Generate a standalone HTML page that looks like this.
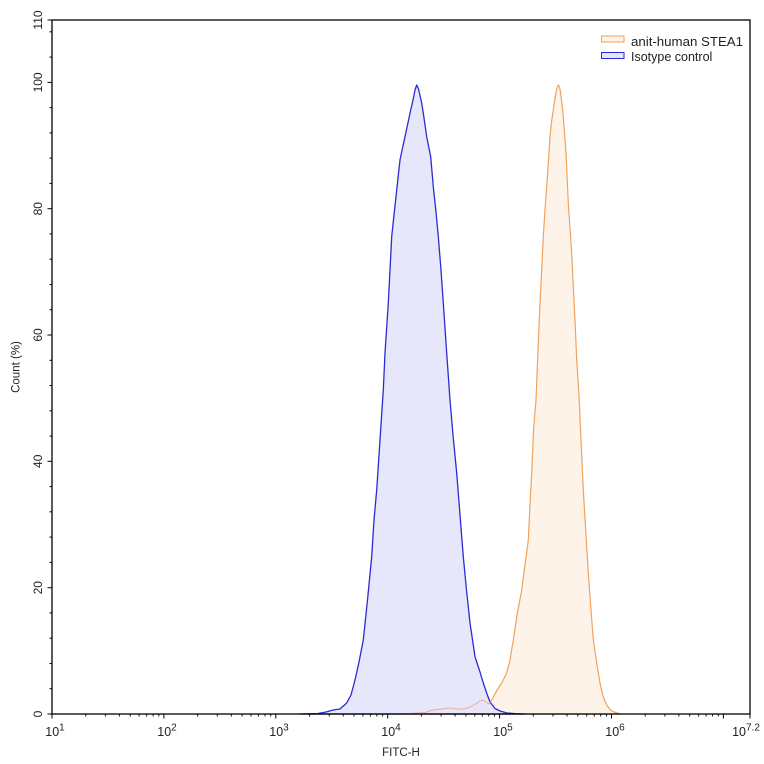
<!DOCTYPE html>
<html>
<head>
<meta charset="utf-8">
<style>
  html,body{margin:0;padding:0;background:#fff;}
  svg{display:block;}
  text{font-family:"Liberation Sans",Arial,sans-serif;fill:#222;}
</style>
</head>
<body>
<svg width="764" height="764" viewBox="0 0 764 764" xmlns="http://www.w3.org/2000/svg">
  <rect x="0" y="0" width="764" height="764" fill="#fff"/>

  <!-- Orange (anti-human STEA1) -->
  <path d="M395,714 L410,713.5 L425,712.5 L433,710 L442,709 L450,708 L458,709 L463,709.3 L470,707 L476.7,703.3 L480,701 L483,700 L486.7,702.7 L489,704 L491.7,700 L495,694 L497,690 L501.7,683 L506.7,673 L510,660 L513.3,640 L517,615 L521.7,590 L525,565 L528.3,540 L530,505 L531.7,473 L533.5,430 L536,400 L538,350 L540,303 L541.7,270 L543.3,236.7 L545,210 L546.7,186.7 L548.5,160 L550,136.7 L551.5,122 L553.3,110 L555.5,95 L557,88 L558.3,85 L559.5,87 L560.5,92 L562.7,110 L564.5,132 L566,153 L567,175 L568.3,203 L570,228 L571.7,253 L573.3,287 L575,320 L576.7,360 L579,395 L581,440 L583.3,490 L586,535 L588.3,573 L591,610 L593.3,640 L597,665 L600,683 L603,696 L606.7,705 L610,709.5 L613.3,711.7 L620,714 Z"
        fill="#fdf3e8" stroke="#f0a25e" stroke-width="1.2" stroke-linejoin="round"/>

  <!-- Blue (Isotype control) -->
  <path d="M300,714 L318,713.5 L326,712 L333,710 L340,709 L346.7,703 L351,695 L355,680 L359,662 L363.3,640 L367.5,600 L371.7,556.7 L374,520 L376.7,490 L380,440 L383.3,390 L385,353 L388.3,303 L390,270 L391.7,236.7 L394,215 L396,196.7 L398,178 L400,160 L402.5,148 L405,136.7 L407.5,125 L410,113.3 L413,100 L415,90 L416.7,85 L418.5,89 L421.7,103 L424,118 L426.7,136.7 L430.7,156.7 L433.3,186.7 L436,212 L438.3,236.7 L441,270 L443.3,303 L446.7,353 L450,400 L453,435 L456.7,473 L460,515 L463.3,556.7 L466.5,590 L470,623 L475,656.7 L480,672 L483.3,683 L487,694 L490,702 L495,708.5 L500,711 L507,713 L515,713.7 L525,714 Z"
        fill="#e4e4fb" fill-opacity="0.88" stroke="#2b2bd0" stroke-width="1.3" stroke-linejoin="round"/>

  <!-- redraw orange tail line faintly over blue fill -->
  <path d="M395,714 L410,713.5 L425,712.5 L433,710 L442,709 L450,708 L458,709 L463,709.3 L470,707 L476.7,703.3 L480,701 L483,700 L486.7,702.7 L489,704 L491.7,700"
        fill="none" stroke="#e8a07a" stroke-width="1" stroke-opacity="0.7"/>

  <!-- Frame -->
  <rect x="52" y="20" width="698" height="694" fill="none" stroke="#000" stroke-width="1.3"/>

  <!-- Y ticks -->
  <g stroke="#000" stroke-width="1">
    <line x1="47.5" y1="714" x2="52" y2="714"/>
    <line x1="47.5" y1="587.7" x2="52" y2="587.7"/>
    <line x1="47.5" y1="461.3" x2="52" y2="461.3"/>
    <line x1="47.5" y1="335" x2="52" y2="335"/>
    <line x1="47.5" y1="208.7" x2="52" y2="208.7"/>
    <line x1="47.5" y1="82.4" x2="52" y2="82.4"/>
    <line x1="47.5" y1="20" x2="52" y2="20"/>
    <line x1="49.5" y1="688.7" x2="52" y2="688.7"/>
    <line x1="49.5" y1="663.5" x2="52" y2="663.5"/>
    <line x1="49.5" y1="638.2" x2="52" y2="638.2"/>
    <line x1="49.5" y1="612.9" x2="52" y2="612.9"/>
    <line x1="49.5" y1="562.4" x2="52" y2="562.4"/>
    <line x1="49.5" y1="537.1" x2="52" y2="537.1"/>
    <line x1="49.5" y1="511.8" x2="52" y2="511.8"/>
    <line x1="49.5" y1="486.6" x2="52" y2="486.6"/>
    <line x1="49.5" y1="436.1" x2="52" y2="436.1"/>
    <line x1="49.5" y1="410.8" x2="52" y2="410.8"/>
    <line x1="49.5" y1="385.5" x2="52" y2="385.5"/>
    <line x1="49.5" y1="360.3" x2="52" y2="360.3"/>
    <line x1="49.5" y1="309.7" x2="52" y2="309.7"/>
    <line x1="49.5" y1="284.5" x2="52" y2="284.5"/>
    <line x1="49.5" y1="259.2" x2="52" y2="259.2"/>
    <line x1="49.5" y1="233.9" x2="52" y2="233.9"/>
    <line x1="49.5" y1="183.4" x2="52" y2="183.4"/>
    <line x1="49.5" y1="158.1" x2="52" y2="158.1"/>
    <line x1="49.5" y1="132.9" x2="52" y2="132.9"/>
    <line x1="49.5" y1="107.6" x2="52" y2="107.6"/>
    <line x1="49.5" y1="57.1" x2="52" y2="57.1"/>
    <line x1="49.5" y1="31.8" x2="52" y2="31.8"/>
  </g>

  <!-- Y labels -->
  <g font-size="12" text-anchor="middle">
    <text transform="translate(42,714) rotate(-90)">0</text>
    <text transform="translate(42,587.7) rotate(-90)">20</text>
    <text transform="translate(42,461.3) rotate(-90)">40</text>
    <text transform="translate(42,335) rotate(-90)">60</text>
    <text transform="translate(42,208.7) rotate(-90)">80</text>
    <text transform="translate(42,82.4) rotate(-90)">100</text>
    <text transform="translate(42,20) rotate(-90)">110</text>
  </g>
  <text font-size="11.5" text-anchor="middle" transform="translate(19.5,367) rotate(-90)">Count (%)</text>

  <!-- X ticks -->
  <g stroke="#000" stroke-width="1">
    <line x1="52" y1="714" x2="52" y2="718.5"/>
    <line x1="163.9" y1="714" x2="163.9" y2="718.5"/>
    <line x1="275.8" y1="714" x2="275.8" y2="718.5"/>
    <line x1="387.7" y1="714" x2="387.7" y2="718.5"/>
    <line x1="499.6" y1="714" x2="499.6" y2="718.5"/>
    <line x1="611.5" y1="714" x2="611.5" y2="718.5"/>
    <line x1="723.4" y1="714" x2="723.4" y2="718.5"/>
    <line x1="750" y1="714" x2="750" y2="718.5"/>
  </g>
  <g stroke="#000" stroke-width="0.9">
    <line x1="85.7" y1="714" x2="85.7" y2="716.5"/><line x1="105.4" y1="714" x2="105.4" y2="716.5"/><line x1="119.4" y1="714" x2="119.4" y2="716.5"/><line x1="130.2" y1="714" x2="130.2" y2="716.5"/><line x1="139.1" y1="714" x2="139.1" y2="716.5"/><line x1="146.6" y1="714" x2="146.6" y2="716.5"/><line x1="153.1" y1="714" x2="153.1" y2="716.5"/><line x1="158.8" y1="714" x2="158.8" y2="716.5"/>
    <line x1="197.6" y1="714" x2="197.6" y2="716.5"/><line x1="217.3" y1="714" x2="217.3" y2="716.5"/><line x1="231.3" y1="714" x2="231.3" y2="716.5"/><line x1="242.1" y1="714" x2="242.1" y2="716.5"/><line x1="251" y1="714" x2="251" y2="716.5"/><line x1="258.5" y1="714" x2="258.5" y2="716.5"/><line x1="265" y1="714" x2="265" y2="716.5"/><line x1="270.7" y1="714" x2="270.7" y2="716.5"/>
    <line x1="309.5" y1="714" x2="309.5" y2="716.5"/><line x1="329.2" y1="714" x2="329.2" y2="716.5"/><line x1="343.2" y1="714" x2="343.2" y2="716.5"/><line x1="354" y1="714" x2="354" y2="716.5"/><line x1="362.9" y1="714" x2="362.9" y2="716.5"/><line x1="370.4" y1="714" x2="370.4" y2="716.5"/><line x1="376.9" y1="714" x2="376.9" y2="716.5"/><line x1="382.6" y1="714" x2="382.6" y2="716.5"/>
    <line x1="421.4" y1="714" x2="421.4" y2="716.5"/><line x1="441.1" y1="714" x2="441.1" y2="716.5"/><line x1="455.1" y1="714" x2="455.1" y2="716.5"/><line x1="465.9" y1="714" x2="465.9" y2="716.5"/><line x1="474.8" y1="714" x2="474.8" y2="716.5"/><line x1="482.3" y1="714" x2="482.3" y2="716.5"/><line x1="488.8" y1="714" x2="488.8" y2="716.5"/><line x1="494.5" y1="714" x2="494.5" y2="716.5"/>
    <line x1="533.3" y1="714" x2="533.3" y2="716.5"/><line x1="553" y1="714" x2="553" y2="716.5"/><line x1="567" y1="714" x2="567" y2="716.5"/><line x1="577.8" y1="714" x2="577.8" y2="716.5"/><line x1="586.7" y1="714" x2="586.7" y2="716.5"/><line x1="594.2" y1="714" x2="594.2" y2="716.5"/><line x1="600.7" y1="714" x2="600.7" y2="716.5"/><line x1="606.4" y1="714" x2="606.4" y2="716.5"/>
    <line x1="645.2" y1="714" x2="645.2" y2="716.5"/><line x1="664.9" y1="714" x2="664.9" y2="716.5"/><line x1="678.9" y1="714" x2="678.9" y2="716.5"/><line x1="689.7" y1="714" x2="689.7" y2="716.5"/><line x1="698.6" y1="714" x2="698.6" y2="716.5"/><line x1="706.1" y1="714" x2="706.1" y2="716.5"/><line x1="712.6" y1="714" x2="712.6" y2="716.5"/><line x1="718.3" y1="714" x2="718.3" y2="716.5"/>
  </g>

  <!-- X labels -->
  <g font-size="12.5" text-anchor="middle">
    <text x="55" y="736">10<tspan dy="-5.5" font-size="10">1</tspan></text>
    <text x="167" y="736">10<tspan dy="-5.5" font-size="10">2</tspan></text>
    <text x="279" y="736">10<tspan dy="-5.5" font-size="10">3</tspan></text>
    <text x="391" y="736">10<tspan dy="-5.5" font-size="10">4</tspan></text>
    <text x="503" y="736">10<tspan dy="-5.5" font-size="10">5</tspan></text>
    <text x="615" y="736">10<tspan dy="-5.5" font-size="10">6</tspan></text>
    <text x="746" y="736">10<tspan dy="-5.5" font-size="10">7.2</tspan></text>
  </g>
  <text x="401" y="756" font-size="11.5" text-anchor="middle">FITC-H</text>

  <!-- Legend -->
  <rect x="601.5" y="36" width="22.5" height="6" fill="#fdf3e8" stroke="#f0a25e" stroke-width="1"/>
  <rect x="601.5" y="52.5" width="22.5" height="6" fill="#e4e4fb" stroke="#2b2bd0" stroke-width="1"/>
  <g font-size="12.5">
    <text x="631" y="46" textLength="112" lengthAdjust="spacingAndGlyphs">anit-human STEA1</text>
    <text x="631" y="61">Isotype control</text>
  </g>
</svg>
</body>
</html>
